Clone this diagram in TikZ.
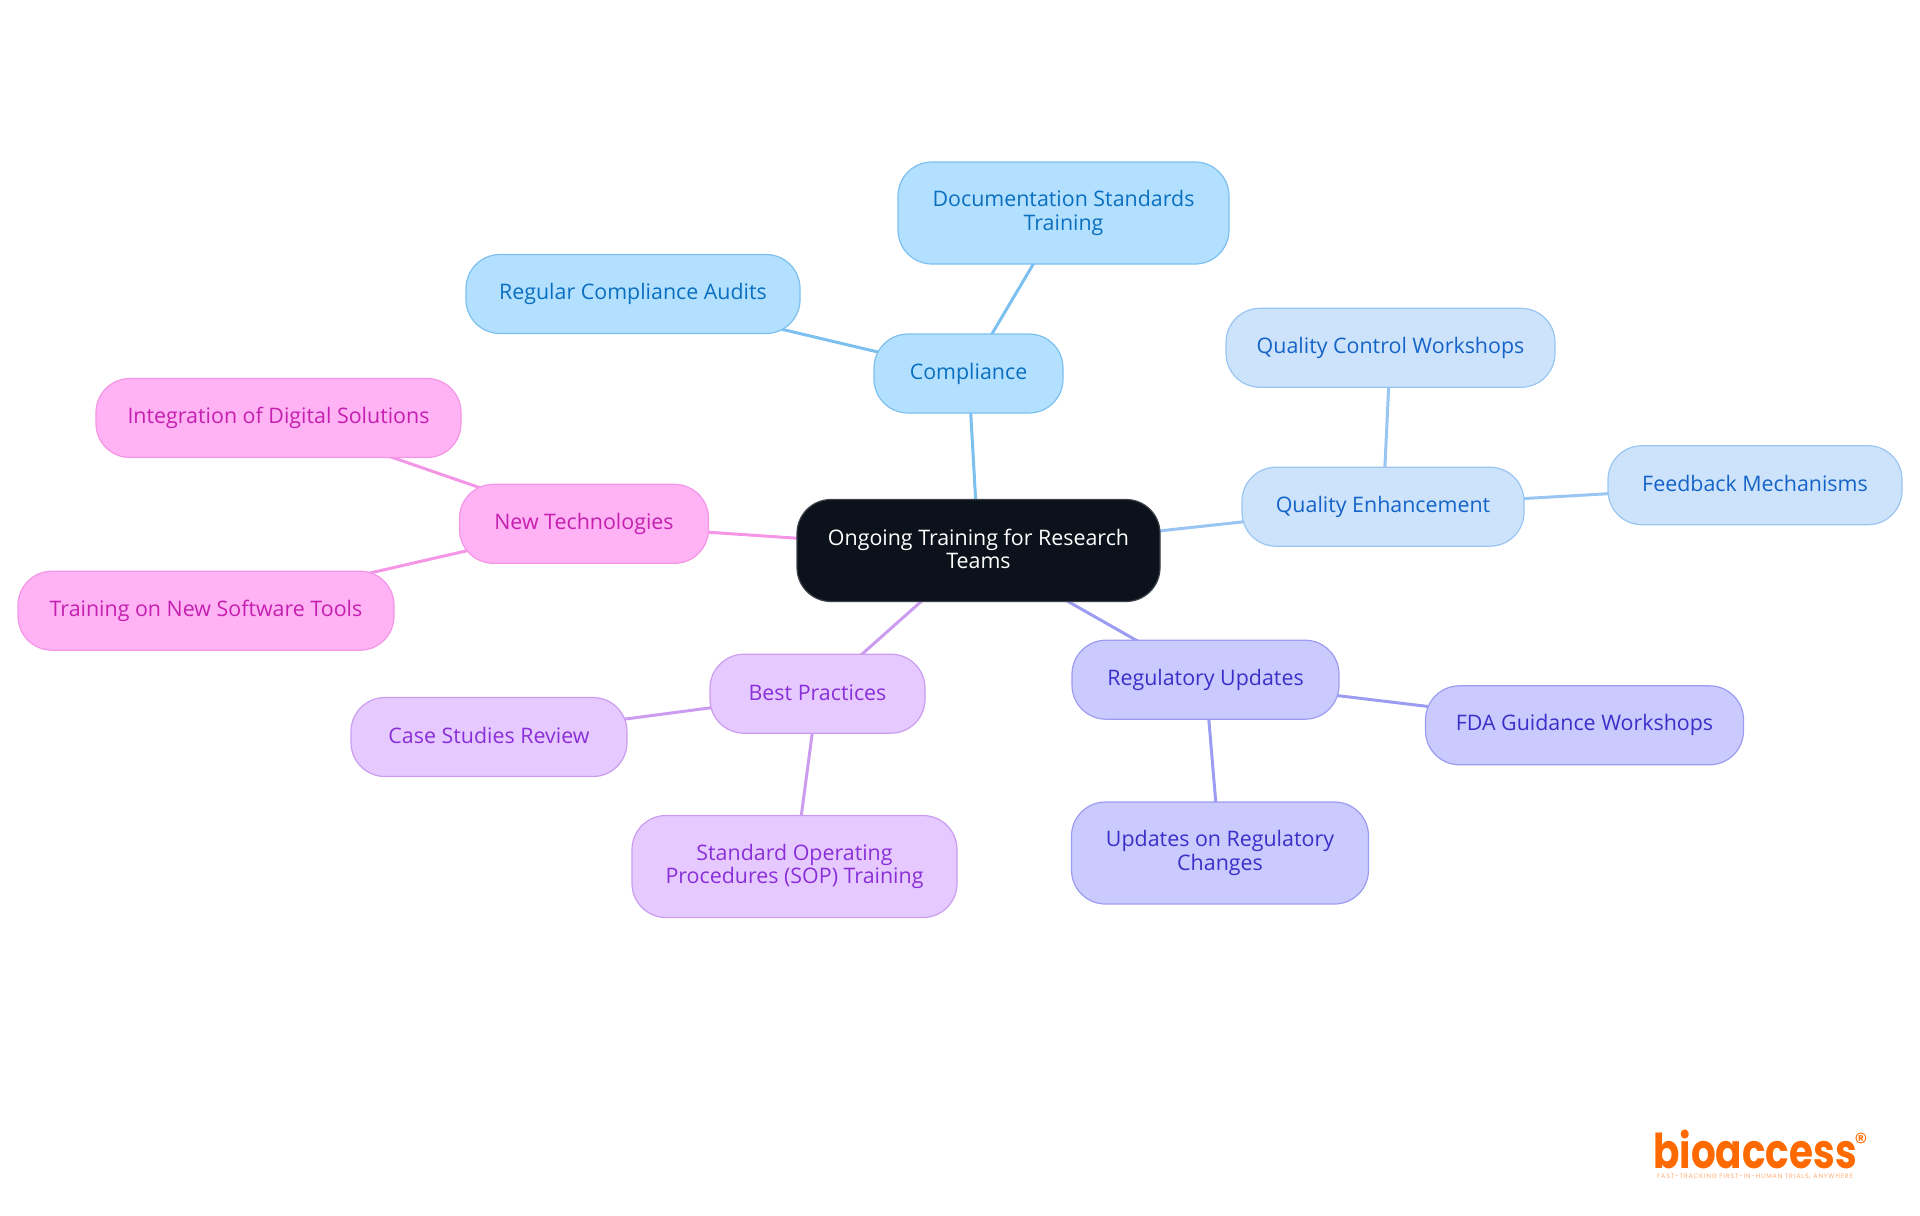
\documentclass[tikz,border=0pt]{standalone}
\usepackage{fontspec}
\setmainfont{Open Sans}
\newfontfamily\logofont{Poppins}
\newfontfamily\tagfont[LetterSpace=13]{Poppins}
\usetikzlibrary{backgrounds}
\definecolor{cRoot}{HTML}{0B121B}
\definecolor{cBlueF}{HTML}{B3E0FF}\definecolor{cBlueD}{HTML}{7CC0F0}\definecolor{cBlueT}{HTML}{0B6FC0}
\definecolor{cSkyF}{HTML}{CDE3FC}\definecolor{cSkyD}{HTML}{99C5F2}\definecolor{cSkyT}{HTML}{1463C8}
\definecolor{cIndF}{HTML}{CACAFF}\definecolor{cIndD}{HTML}{9C9CF2}\definecolor{cIndT}{HTML}{3A2FC8}
\definecolor{cPurF}{HTML}{E6CAFF}\definecolor{cPurD}{HTML}{CB9CF0}\definecolor{cPurT}{HTML}{8A2FD8}
\definecolor{cPinF}{HTML}{FFB3F5}\definecolor{cPinD}{HTML}{F595E5}\definecolor{cPinT}{HTML}{C51FB0}
\definecolor{cLogo}{HTML}{FF6A00}
\newcommand{\ls}{\rule[-1.7pt]{0pt}{9.7pt}}
\tikzset{
  x=0.5pt,y=-0.5pt,
  box/.style={rectangle,rounded corners=17pt,line width=0.6pt,align=center,inner sep=0pt,font=\fontsize{10.7pt}{11.7pt}\selectfont},
  bluebox/.style={box,fill=cBlueF,draw=cBlueD,text=cBlueT},
  skybox/.style={box,fill=cSkyF,draw=cSkyD,text=cSkyT},
  indbox/.style={box,fill=cIndF,draw=cIndD,text=cIndT},
  purbox/.style={box,fill=cPurF,draw=cPurD,text=cPurT},
  pinbox/.style={box,fill=cPinF,draw=cPinD,text=cPinT},
  rootbox/.style={box,fill=cRoot,draw=cRoot!80!white,text=white},
  wire/.style={line width=1.5pt},
}
\newcommand{\mm}[7]{\node[#6,minimum width=#4*0.5pt,minimum height=#5*0.5pt] (#1) at (#2,#3) {#7};}
\begin{document}
\begin{tikzpicture}
\useasboundingbox (0,0) rectangle (1920,1215);
\mm{root}{978.5}{550.5}{363}{102}{rootbox}{\ls Ongoing Training for Research\\\ls Teams}
\mm{comp}{968.5}{373.5}{189}{79}{bluebox}{\ls Compliance}
\mm{doc}{1063.5}{213}{331}{102}{bluebox}{\ls Documentation Standards\\\ls Training}
\mm{audit}{633}{294}{334}{79}{bluebox}{\ls Regular Compliance Audits}
\mm{qe}{1383}{506.7}{282}{79}{skybox}{\ls Quality Enhancement}
\mm{qc}{1390.5}{347.8}{329}{79}{skybox}{\ls Quality Control Workshops}
\mm{fb}{1755}{485.2}{294}{79}{skybox}{\ls Feedback Mechanisms}
\mm{reg}{1205.5}{679.7}{267}{79}{indbox}{\ls Regulatory Updates}
\mm{fda}{1584.5}{725.3}{318}{79}{indbox}{\ls FDA Guidance Workshops}
\mm{upd}{1220}{853}{297}{102}{indbox}{\ls Updates on Regulatory\\\ls Changes}
\mm{best}{817.5}{693.7}{215}{79}{purbox}{\ls Best Practices}
\mm{case}{489}{737}{276}{79}{purbox}{\ls Case Studies Review}
\mm{sop}{794.5}{866.5}{325}{102}{purbox}{\ls Standard Operating\\\ls Procedures (SOP) Training}
\mm{tech}{584}{523.8}{249}{79}{pinbox}{\ls New Technologies}
\mm{digi}{278.5}{418}{365}{79}{pinbox}{\ls Integration of Digital Solutions}
\mm{soft}{206}{610.7}{376}{79}{pinbox}{\ls Training on New Software Tools}
\begin{scope}[on background layer]
\draw[wire,cBlueD] (root.center)--(comp.center) (comp.center)--(doc.center) (comp.center)--(audit.center);
\draw[wire,cSkyD] (root.center)--(qe.center) (qe.center)--(qc.center) (qe.center)--(fb.center);
\draw[wire,cIndD] (root.center)--(reg.center) (reg.center)--(fda.center) (reg.center)--(upd.center);
\draw[wire,cPurD] (root.center)--(best.center) (best.center)--(case.center) (best.center)--(sop.center);
\draw[wire,cPinD] (root.center)--(tech.center) (tech.center)--(digi.center) (tech.center)--(soft.center);
\end{scope}
\node[inner sep=0pt,anchor=base,text=cLogo,font=\logofont\bfseries\fontsize{24pt}{24pt}\selectfont] (logo) at (1755,1168) {\scalebox{0.81}[1]{bioaccess}};
\node[inner sep=0pt,text=cLogo,font=\logofont\fontsize{13pt}{13pt}\selectfont] (mark) at (1861,1142) {®};
\node[inner sep=0pt,text=cLogo!55!white,font=\tagfont\fontsize{3.2pt}{3.2pt}\selectfont] (tag) at (1755,1177) {FAST-TRACKING FIRST-IN-HUMAN TRIALS, ANYWHERE};
\end{tikzpicture}
\end{document}
